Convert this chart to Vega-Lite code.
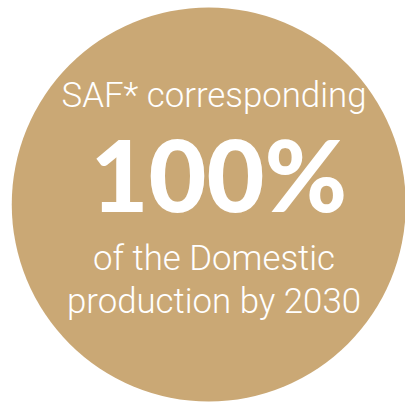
{
  "$schema": "https://vega.github.io/schema/vega-lite/v6.json",
  "width": 405,
  "height": 404,
  "autosize": {"type": "fit", "contains": "padding"},
  "padding": 0,
  "background": "white",
  "view": {"stroke": null},
  "datasets": {
    "disc": [{"cx": 51.8, "cy": 50.6}],
    "lines": [
      {"text": "SAF* corresponding", "row": 26.5, "kind": "light"},
      {"text": "100%", "row": 52.5, "kind": "big"},
      {"text": "of the Domestic", "row": 66.8, "kind": "light"},
      {"text": "production by 2030", "row": 77.5, "kind": "light"}
    ]
  },
  "layer": [
    {
      "data": {"name": "disc"},
      "mark": {"type": "point", "shape": "circle", "filled": true, "color": "#CAA875", "opacity": 1, "size": 155236},
      "encoding": {
        "x": {"field": "cx", "type": "quantitative", "scale": {"domain": [0, 100]}, "axis": null},
        "y": {"field": "cy", "type": "quantitative", "scale": {"domain": [0, 100], "reverse": true}, "axis": null}
      }
    },
    {
      "data": {"name": "lines"},
      "transform": [{"filter": "datum.kind === 'light'"}],
      "mark": {"type": "text", "font": "Roboto", "fontWeight": 300, "fontSize": 34.8, "color": "white", "baseline": "alphabetic", "align": "center"},
      "encoding": {
        "x": {"datum": 53.1, "type": "quantitative", "scale": {"domain": [0, 100]}},
        "y": {"field": "row", "type": "quantitative", "scale": {"domain": [0, 100], "reverse": true}},
        "text": {"field": "text"}
      }
    },
    {
      "data": {"name": "lines"},
      "transform": [{"filter": "datum.kind === 'big'"}],
      "mark": {"type": "text", "font": "Lato", "fontWeight": 900, "fontSize": 100, "color": "white", "baseline": "alphabetic", "align": "center"},
      "encoding": {
        "x": {"datum": 54.3, "type": "quantitative", "scale": {"domain": [0, 100]}},
        "y": {"field": "row", "type": "quantitative", "scale": {"domain": [0, 100], "reverse": true}},
        "text": {"field": "text"}
      }
    }
  ]
}
